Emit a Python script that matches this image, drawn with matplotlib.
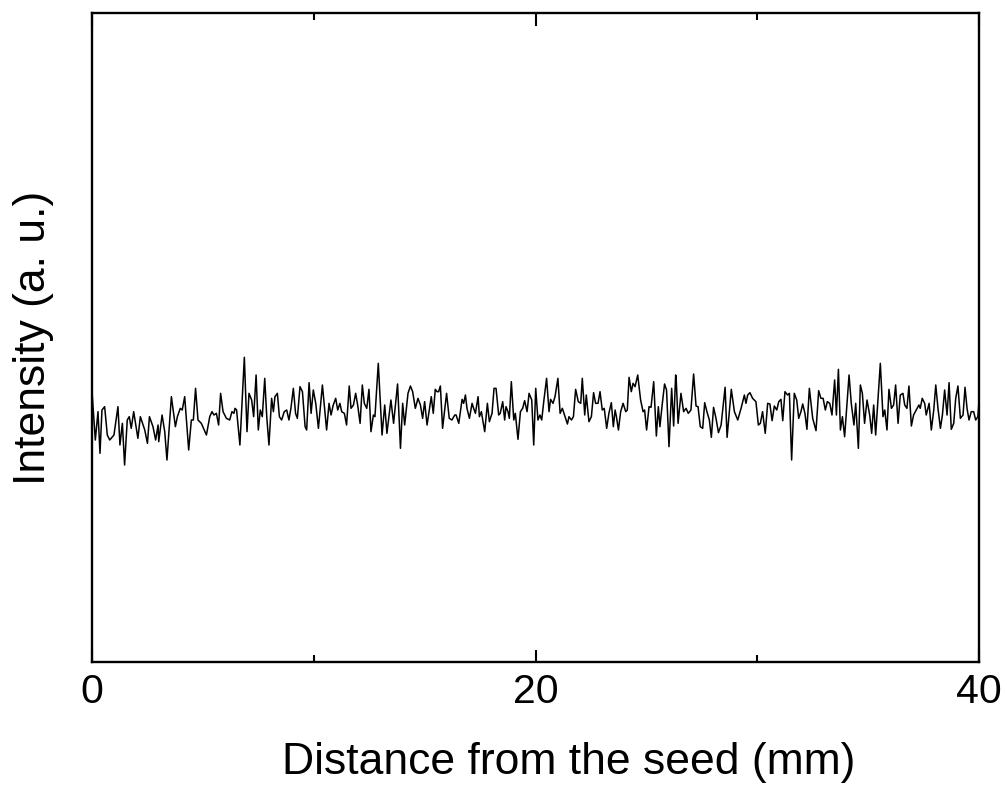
import numpy as np
import matplotlib
matplotlib.use("Agg")
import matplotlib.pyplot as plt
from matplotlib.ticker import MultipleLocator

# distance from the seed (mm) and intensity (a.u.)
distance_mm = [
    0.00, 0.15, 0.27, 0.36, 0.45, 0.57, 0.69, 0.80, 0.99, 1.17,
    1.26, 1.37, 1.47, 1.59, 1.68, 1.77, 1.88, 2.07, 2.18, 2.38,
    2.50, 2.59, 2.75, 2.87, 2.98, 3.01, 3.16, 3.28, 3.38, 3.58,
    3.76, 3.85, 3.98, 4.07, 4.18, 4.36, 4.48, 4.57, 4.67, 4.78,
    4.93, 5.16, 5.31, 5.41, 5.50, 5.61, 5.71, 5.80, 5.91, 6.06,
    6.21, 6.31, 6.40,
    6.45, 6.52, 6.67, 6.87, 6.99, 7.08, 7.20, 7.29, 7.40, 7.50,
    7.59, 7.68, 7.79, 7.88, 7.98, 8.10, 8.18, 8.25, 8.36, 8.45,
    8.55, 8.67, 8.78, 8.88, 8.97, 9.08, 9.18, 9.26, 9.38, 9.49,
    9.61, 9.68, 9.79, 9.88, 9.98, 10.09, 10.21, 10.39, 10.58, 10.69,
    10.78, 10.88, 10.99, 11.08, 11.18, 11.26, 11.38, 11.48, 11.60, 11.68,
    11.79, 11.89, 11.98, 12.09, 12.19, 12.28, 12.39, 12.49, 12.58, 12.69,
    12.76, 12.91,
    13.08, 13.20, 13.30, 13.48, 13.60, 13.78, 13.91, 14.01, 14.10, 14.25,
    14.36, 14.46, 14.58, 14.70, 14.81, 14.91, 15.00, 15.11, 15.30, 15.39,
    15.48, 15.56, 15.63, 15.71, 15.81, 15.99, 16.11, 16.23, 16.36, 16.42,
    16.54, 16.69, 16.76, 16.84, 16.91, 17.02, 17.14, 17.21, 17.29, 17.41,
    17.47, 17.56, 17.62, 17.71, 17.83, 17.92, 18.04, 18.13, 18.22, 18.34,
    18.41, 18.52, 18.61, 18.67, 18.76, 18.82, 18.91, 19.02, 19.09, 19.21,
    19.32, 19.42, 19.51, 19.62,
    19.71, 19.83, 19.92, 20.01, 20.11, 20.20, 20.28, 20.38, 20.50, 20.61,
    20.68, 20.79, 20.88, 21.01, 21.11, 21.21, 21.33, 21.44, 21.51, 21.62,
    21.71, 21.81, 21.93, 22.04, 22.11, 22.22, 22.29, 22.41, 22.52, 22.62,
    22.71, 22.82, 22.91, 23.01, 23.10, 23.21, 23.31, 23.42, 23.51, 23.59,
    23.65, 23.74, 23.84, 23.95, 24.07, 24.14, 24.22, 24.32, 24.40, 24.49,
    24.61, 24.74, 24.85, 24.92, 25.01, 25.12, 25.21, 25.33, 25.45, 25.54,
    25.61, 25.72, 25.82, 25.91, 26.02, 26.14, 26.23, 26.32,
    26.34, 26.43, 26.56, 26.68, 26.79, 26.89, 27.01, 27.13, 27.24, 27.33,
    27.43, 27.54, 27.63, 27.73, 27.84, 27.93, 28.03, 28.14, 28.25, 28.37,
    28.55, 28.64, 28.83, 28.97, 29.12, 29.27, 29.42, 29.49, 29.57, 29.67,
    29.79, 29.94, 30.05, 30.14, 30.24, 30.36, 30.47, 30.57, 30.67, 30.77,
    30.88, 30.97, 31.07, 31.15, 31.25, 31.37, 31.45, 31.55, 31.67, 31.78,
    31.87, 31.97, 32.05, 32.15, 32.24, 32.35, 32.50, 32.65, 32.77, 32.87,
    32.97, 33.07, 33.16, 33.27, 33.37, 33.49, 33.57, 33.66, 33.75, 33.84,
    33.94, 34.14, 34.24, 34.36, 34.44, 34.56, 34.65, 34.74, 34.84, 34.95,
    35.07, 35.16, 35.25, 35.34, 35.55, 35.67, 35.75, 35.85, 35.94, 36.05,
    36.15, 36.24, 36.35, 36.45, 36.57, 36.65, 36.75, 36.84, 36.95, 37.05,
    37.17, 37.29, 37.35, 37.44, 37.55, 37.62, 37.75, 37.85, 37.96, 38.05,
    38.15, 38.26, 38.35, 38.45, 38.56, 38.65, 38.75, 38.86, 38.95, 39.05,
    39.16, 39.28, 39.37, 39.46, 39.55, 39.65, 39.76, 39.85, 39.95, 40.00,
]

intensity = [
    811, 666, 751, 626, 756, 766, 681, 666, 681, 766,
    651, 716, 591, 726, 736, 701, 751, 671, 736, 696,
    656, 736, 706, 666, 711, 661, 741, 691, 606, 796,
    706, 736, 761, 756, 796, 636, 726, 726, 821, 726,
    716, 681, 736, 751, 741, 746, 711, 806, 751, 731,
    726, 751, 746,
    761, 756, 651, 914, 691, 806, 786, 736, 861, 696,
    756, 736, 851, 736, 651, 791, 751, 796, 806, 736,
    726, 751, 756, 726, 761, 821, 746, 731, 826, 811,
    706, 696, 838, 746, 816, 776, 701, 831, 696, 776,
    741, 771, 791, 756, 776, 751, 746, 711, 828, 761,
    771, 806, 771, 716, 831, 776, 761, 818, 691, 741,
    736, 896,
    681, 771, 686, 786, 716, 834, 641, 776, 711, 806,
    828, 811, 761, 791, 771, 731, 781, 711, 796, 746,
    818, 811, 811, 828, 701, 806, 731, 726, 741, 741,
    716, 788, 776, 801, 761, 731, 776, 761, 746, 796,
    736, 751, 726, 691, 776, 721, 746, 821, 821, 741,
    746, 781, 726, 766, 751, 731, 841, 726, 746, 668,
    751, 761, 784, 751,
    806, 786, 651, 821, 726, 741, 726, 786, 851, 751,
    788, 776, 796, 851, 746, 761, 736, 714, 736, 726,
    736, 818, 781, 776, 851, 741, 801, 721, 736, 808,
    776, 776, 811, 756, 761, 701, 746, 778, 706, 756,
    736, 696, 751, 776, 751, 756, 854, 811, 836, 826,
    861, 786, 751, 756, 696, 766, 764, 841, 678, 766,
    706, 776, 834, 816, 646, 821, 708, 861,
    856, 716, 806, 751, 761, 746, 756, 864, 768, 766,
    706, 701, 778, 751, 726, 674, 764, 731, 688, 711,
    824, 674, 818, 751, 726, 761, 801, 776, 801, 808,
    791, 781, 711, 716, 751, 686, 776, 774, 724, 768,
    756, 781, 788, 724, 811, 801, 806, 606, 806, 786,
    731, 751, 774, 746, 698, 821, 731, 694, 814, 791,
    791, 756, 781, 776, 741, 846, 741, 878, 696, 736,
    676, 861, 776, 711, 776, 641, 831, 806, 716, 786,
    741, 686, 771, 681, 896, 736, 756, 696, 818, 761,
    771, 831, 716, 801, 806, 771, 761, 828, 708, 741,
    756, 771, 761, 791, 776, 741, 776, 696, 756, 831,
    761, 701, 741, 816, 741, 838, 698, 716, 791, 828,
    731, 741, 824, 761, 726, 751, 751, 726, 736, 781,
]

plt.rcParams['font.family'] = ['Liberation Sans', 'DejaVu Sans']

fig = plt.figure(figsize=(10.07, 7.91), dpi=100)
ax = fig.add_axes([92/1007, 1 - 662/791, (979 - 92)/1007, (662 - 13)/791])

ax.plot(distance_mm, intensity, color='black', lw=1.1)

ax.set_xlim(0, 40)
ax.set_ylim(0, 1947)
ax.xaxis.set_major_locator(MultipleLocator(20))
ax.xaxis.set_minor_locator(MultipleLocator(10))
ax.set_yticks([])
ax.tick_params(axis='x', which='both', direction='in', top=True, bottom=True,
               width=1.5, labelsize=29.5, pad=8)
ax.tick_params(axis='x', which='major', length=9)
ax.tick_params(axis='x', which='minor', length=5)
for s in ax.spines.values():
    s.set_linewidth(1.7)

ax.set_xlabel("Distance from the seed (mm)", fontsize=32, labelpad=22)
ax.xaxis.label.set_x(0.537)  # label sits a little right of centre in the original
ax.set_ylabel("Intensity (a. u.)", fontsize=32, labelpad=27)

fig.savefig("out.png", dpi=100)
